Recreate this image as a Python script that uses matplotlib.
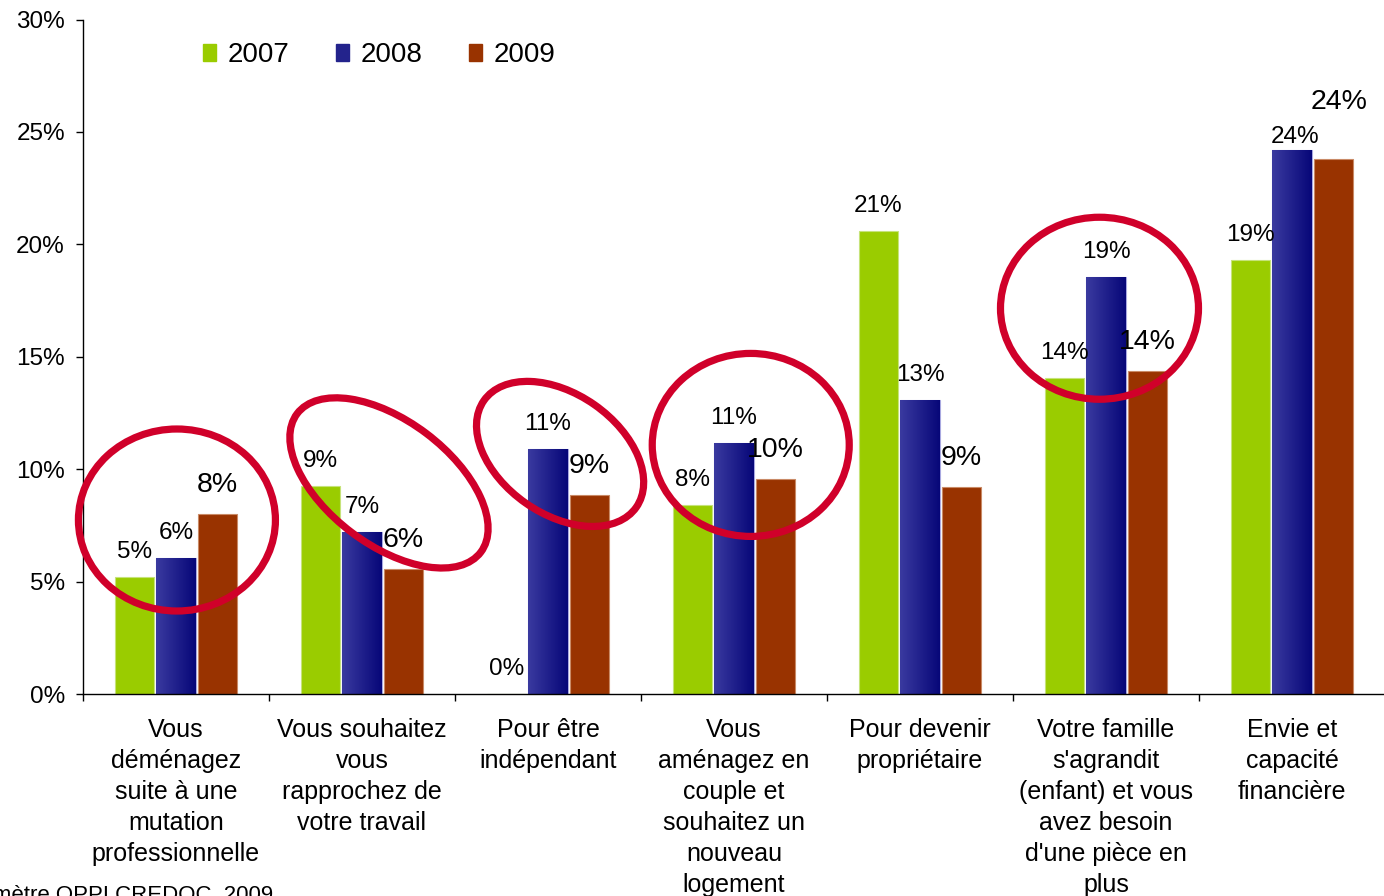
import numpy as np
import matplotlib
matplotlib.use("Agg")
import matplotlib.pyplot as plt
from matplotlib.patches import Ellipse, Patch
from matplotlib.colors import LinearSegmentedColormap
from matplotlib.transforms import ScaledTranslation

plt.rcParams["font.family"] = ["Liberation Sans", "DejaVu Sans"]

# Data (percent of respondents)
categories = [
    "Vous\ndéménagez\nsuite à une\nmutation\nprofessionnelle",
    "Vous souhaitez\nvous\nrapprochez de\nvotre travail",
    "Pour être\nindépendant",
    "Vous\naménagez en\ncouple et\nsouhaitez un\nnouveau\nlogement",
    "Pour devenir\npropriétaire",
    "Votre famille\ns'agrandit\n(enfant) et vous\navez besoin\nd'une pièce en\nplus",
    "Envie et\ncapacité\nfinancière",
]
years = ["2007", "2008", "2009"]
v2007 = [5.2, 9.25, 0.0, 8.4, 20.6, 14.05, 19.3]
v2008 = [6.05, 7.2, 10.9, 11.15, 13.1, 18.55, 24.2]
v2009 = [8.0, 5.55, 8.85, 9.55, 9.2, 14.35, 23.8]
yticks = [0, 5, 10, 15, 20, 25, 30]
circled = [0, 1, 2, 3, 5]  # groups highlighted with a red ellipse

green = "#9ACC00"
brown = "#993300"
blue_left, blue_right = "#3A3AA0", "#070778"
red = "#D0002A"

fig = plt.figure(figsize=(13.84, 8.96), dpi=100)
ax = fig.add_axes([83 / 1384, 202 / 896, 1302 / 1384, 674.4 / 896])

x = np.arange(len(categories))
step, bw = 0.223, 0.214

b1 = ax.bar(x - step, v2007, bw, color=green, edgecolor="#C6E37A", linewidth=0.8, zorder=2)
b2 = ax.bar(x, v2008, bw, color=blue_left, edgecolor="#A8A8E0", linewidth=0.8, zorder=2)
b3 = ax.bar(x + step, v2009, bw, color=brown, edgecolor="#C98A66", linewidth=0.8, zorder=2)

# horizontal gradient on the 2008 bars
cmap = LinearSegmentedColormap.from_list("bl", [blue_left, blue_right])
grad = np.linspace(0, 1, 64).reshape(1, -1)
for rect in b2:
    x0, w, h = rect.get_x(), rect.get_width(), rect.get_height()
    im = ax.imshow(grad, cmap=cmap, extent=[x0, x0 + w, 0, h], aspect="auto", zorder=2.1)
    im.set_clip_path(rect)

ax.set_xlim(-0.5, len(categories) - 0.5)
ax.set_ylim(0, 30)

# value labels
def fmt(v):
    return "{:.0f}%".format(v)

small, big = 17.5, 20.5
for i in range(len(categories)):
    ax.annotate(fmt(v2007[i]), (x[i] - step, v2007[i]), xytext=(0, 18), textcoords="offset points",
                ha="center", va="center", fontsize=small)
    dx, dy = (2, 9) if i == 6 else (0, 18)
    ax.annotate(fmt(v2008[i]), (x[i], v2008[i]), xytext=(dx, dy), textcoords="offset points",
                ha="center", va="center", fontsize=small)
    dx, dy = (4, 41) if i == 6 else (0, 21)
    ax.annotate(fmt(v2009[i]), (x[i] + step, v2009[i]), xytext=(dx, dy), textcoords="offset points",
                ha="center", va="center", fontsize=big)

# red ellipses (center in data units, size in pixels)
ell = [
    (0.005, 7.74, 197, 182, 0),
    (1.145, 9.39, 230, 124, -37),
    (2.065, 10.68, 186, 120, -35),
    (3.09, 11.08, 197, 183, 0),
    (4.965, 17.16, 198, 182, 0),
]
for (cx, cy, ew, eh, ang), g in zip(ell, circled):
    e = Ellipse((0, 0), ew, eh, angle=ang, fill=False, edgecolor=red, linewidth=5.2,
                transform=ScaledTranslation(cx, cy, ax.transData), zorder=5, clip_on=False)
    ax.add_patch(e)

# axes styling
for s in ["top", "right"]:
    ax.spines[s].set_visible(False)
ax.spines["left"].set_linewidth(1)
ax.spines["bottom"].set_linewidth(1)
ax.set_yticks(yticks)
ax.set_yticklabels([f"{t}%" for t in yticks], fontsize=17.5)
ax.tick_params(axis="y", length=5, width=1, pad=8)
ax.set_xticks(np.arange(len(categories) + 1) - 0.5)
ax.set_xticklabels([])
ax.tick_params(axis="x", which="major", length=5, width=1)
ax.set_xticks(x, categories, minor=True)
ax.tick_params(axis="x", which="minor", length=0, pad=17.5, labelsize=18)
for lab in ax.get_xticklabels(minor=True):
    lab.set_linespacing(1.36)

handles = [Patch(color=green), Patch(color="#23238C"), Patch(color=brown)]
ax.legend(handles, years, loc="center left", bbox_to_anchor=(203 / 1384, 1 - 55 / 896),
          bbox_transform=fig.transFigure, ncol=3, frameon=False, fontsize=20,
          handlelength=0.47, handleheight=0.55, handletextpad=0.4, columnspacing=1.7,
          borderpad=0, borderaxespad=0)

fig.text(273 / 1384, -5 / 896, "Source : Baromètre OPPI CREDOC, 2009", ha="right", va="baseline",
         fontsize=16)

fig.savefig("out.png", dpi=100)
